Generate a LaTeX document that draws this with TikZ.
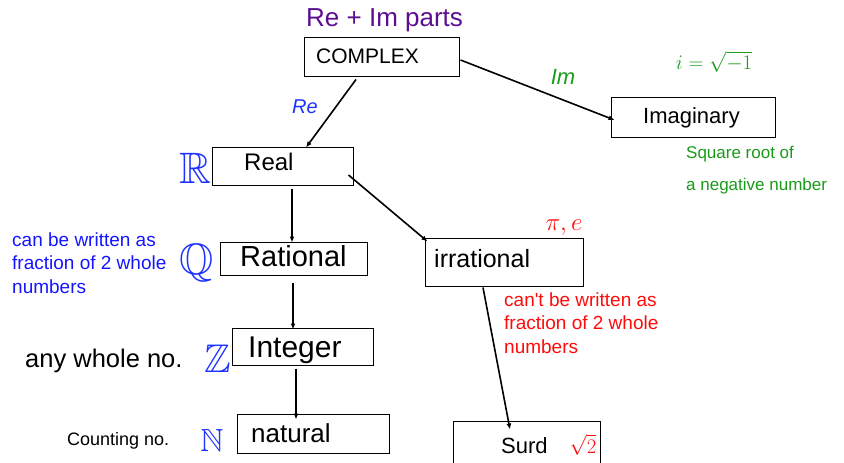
\documentclass[tikz,border=0pt]{standalone}
\usepackage{amssymb}
\usepackage{fontspec}
\setmainfont{Liberation Sans}
\newfontfamily\plainsans{Liberation Sans}
\usetikzlibrary{arrows.meta,calc}
\definecolor{myblue}{RGB}{20,20,255}
\definecolor{hblue}{RGB}{30,50,255}
\definecolor{myred}{RGB}{255,10,10}
\definecolor{mygreen}{RGB}{25,155,25}
\definecolor{mypurple}{RGB}{92,14,146}
\begin{document}
\begin{tikzpicture}[x=1pt,y=-1pt,
  box/.style={draw,line width=1pt,inner sep=0pt,minimum width=#1},
  txt/.style={inner sep=0pt,anchor=base west},
  arr/.style={line width=1.6pt,-{Latex[length=6pt,width=5pt]}},
  hand/.style={inner sep=0pt}]
\useasboundingbox (0,0) rectangle (844,463);
% boxes
\node[box=155pt,minimum height=39pt] (complex) at (381.5,56.5) {};
\node[box=164pt,minimum height=40pt] (imag) at (693,117) {};
\node[box=141pt,minimum height=38pt] (real) at (282.5,166) {};
\node[box=147pt,minimum height=33pt] (rational) at (293.5,258.5) {};
\node[box=158pt,minimum height=48pt] (irr) at (504,262) {};
\node[box=141pt,minimum height=37pt] (integer) at (302.5,346.5) {};
\node[box=152pt,minimum height=39pt] (natural) at (313,433.5) {};
\node[box=147pt,minimum height=49pt] (surd) at (526.5,445.5) {};
% box texts
\node[txt,font=\fontsize{21}{24}\selectfont] (tcomplex) at (316,63) {COMPLEX};
\node[txt,font=\fontsize{22}{24}\selectfont] (timag) at (643,123) {Imaginary};
\node[txt,font=\fontsize{24}{26}\selectfont] (treal) at (244,170) {Real};
\node[txt,font=\fontsize{29}{30}\selectfont] (trational) at (240,266) {Rational};
\node[txt,font=\fontsize{25}{26}\selectfont] (tirr) at (434,267) {irrational};
\node[txt,font=\fontsize{30}{30}\selectfont] (tinteger) at (248,357) {Integer};
\node[txt,font=\fontsize{26}{26}\selectfont] (tnatural) at (251,442) {natural};
\node[txt,font=\fontsize{22}{24}\selectfont] (tsurd) at (501,453) {Surd};
% side texts
\node[txt,font=\fontsize{26}{28}\selectfont,text=mypurple] (title) at (306,26) {Re + Im parts};
\node[txt,font=\fontsize{17}{18}\selectfont,text=mygreen] (sq1) at (686,158) {Square root of};
\node[txt,font=\fontsize{17}{18}\selectfont,text=mygreen] (sq2) at (686,190) {a negative number};
\node[txt,font=\fontsize{19}{20}\selectfont,text=myblue] (b1) at (12,246) {can be written as};
\node[txt,font=\fontsize{19}{20}\selectfont,text=myblue] (b2) at (12,269) {fraction of 2 whole};
\node[txt,font=\fontsize{19}{20}\selectfont,text=myblue] (b3) at (12,293) {numbers};
\node[txt,font=\plainsans\fontsize{19}{20}\selectfont,text=myred] (r1) at (504,306) {can't be written as};
\node[txt,font=\fontsize{19}{20}\selectfont,text=myred] (r2) at (504,329) {fraction of 2 whole};
\node[txt,font=\fontsize{19}{20}\selectfont,text=myred] (r3) at (504,353) {numbers};
\node[txt,font=\fontsize{25.5}{26}\selectfont] (any) at (25,367) {any whole no.};
\node[txt,font=\fontsize{18}{20}\selectfont] (count) at (67,445) {Counting no.};
% handwritten marks
\node[hand,text=hblue,font=\fontsize{20}{20}\selectfont] (hre) at (305,107) {$\mathit{Re}$};
\node[hand,text=mygreen,font=\fontsize{22}{22}\selectfont] (him) at (563,77) {$\mathit{Im}$};
\node[hand,text=mygreen,font=\fontsize{20}{20}\selectfont] (hi) at (714,62) {$i=\sqrt{-1}$};
\node[hand,text=myred,font=\fontsize{26}{26}\selectfont] (hpi) at (564,228) {$\pi,e$};
\node[hand,text=myred,font=\fontsize{22}{22}\selectfont] (hsqrt) at (583,445) {$\sqrt{2}$};
\node[hand,text=hblue,font=\fontsize{44}{44}\selectfont] (hR) at (195,168) {$\mathbb{R}$};
\node[hand,text=hblue,font=\fontsize{44}{44}\selectfont] (hQ) at (197,263) {$\mathbb{Q}$};
\node[hand,text=hblue,font=\fontsize{40}{40}\selectfont] (hZ) at (218,359) {$\mathbb{Z}$};
\node[hand,text=hblue,font=\fontsize{32}{32}\selectfont] (hN) at (212,440) {$\mathbb{N}$};
% arrows
\draw[arr] ($(complex.south)+(-25.5,3)$) -- ($(real.north)+(23.5,1)$);
\draw[arr] ($(complex.east)+(1,3.5)$) -- ($(imag.west)+(4,3)$);
\draw[arr] ($(real.south)+(9.5,3)$) -- ($(rational.north)+(-1.5,1)$);
\draw[arr] ($(real.east)+(-5,9)$) -- ($(irr.north west)+(3,4)$);
\draw[arr] ($(rational.south)+(-0.5,7)$) -- ($(integer.north)+(-9.5,2)$);
\draw[arr] ($(irr.south)+(-21,1)$) -- ($(surd.north)+(-16.5,9)$);
\draw[arr] ($(integer.south)+(-6.5,3)$) -- ($(natural.north)+(-17,6)$);
\end{tikzpicture}
\end{document}
